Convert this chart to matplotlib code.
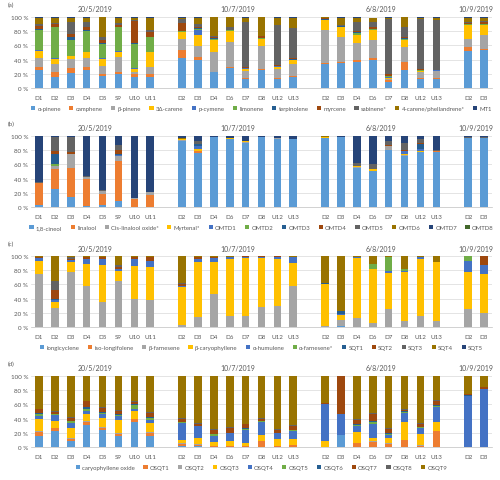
import numpy as np
import matplotlib
matplotlib.use("Agg")
import matplotlib.pyplot as plt

plt.rcParams['font.family'] = ['Lato', 'DejaVu Sans']

# sampling dates and samples per date
dates = ["20/5/2019", "10/7/2019", "6/8/2019", "10/9/2019"]
group_samples = [
    ["D1", "D2", "D3", "D4", "D5", "S9", "U10", "U11"],
    ["D2", "D3", "D4", "D6", "D7", "D8", "U12", "U13"],
    ["D2", "D3", "D4", "D6", "D7", "D8", "U12", "U13"],
    ["D2", "D3"],
]

# (a) monoterpenes, % per sample (one row per bar, columns follow mt_names)
mt_names = ["α-pinene", "camphene", "β-pinene", "3Δ-carene", "p-cymene", "limonene",
            "terpinolene", "myrcene", "sabinene*", "4-carene/phellandrene*", "MT1"]
mt_bars = [
    [25, 4, 13, 10, 1, 29, 0.5, 5, 3, 8, 1.5],
    [16, 6, 11, 8, 0.5, 43.5, 0.5, 4, 2, 7, 1.5],
    [21, 7, 13, 4, 0.5, 21.5, 4, 5, 16, 6, 2],
    [25, 4, 13, 8, 1, 29, 1, 5, 6, 6, 2],
    [17, 3, 11, 10, 1, 20, 0.5, 5, 4.5, 28, 0],
    [20, 2, 21, 8, 1, 33, 0.5, 3, 3, 7, 1.5],
    [15, 4, 3, 5, 1, 34, 0.5, 31.5, 2, 2, 2],
    [15, 4, 11, 20, 1, 20, 1, 7, 3, 16, 2],
    [42, 11, 16, 9, 0.5, 1, 0.5, 11, 6, 1, 2],
    [40, 3, 16, 16, 7, 1, 1, 1, 5, 8, 2],
    [22, 1, 28, 16, 1, 1, 1, 2, 1, 27, 0],
    [28, 2, 34, 16, 0.5, 0.5, 0.5, 0.5, 4, 14, 0],
    [13, 1, 10, 3, 0.5, 0.5, 0.5, 1, 62.5, 6, 2],
    [25, 2, 32, 10, 0.5, 0.5, 0.5, 2, 1, 26.5, 0],
    [13, 1, 13, 3, 0.5, 0.5, 0.5, 0.5, 56, 10, 2],
    [16, 1, 16, 6, 0.5, 0.5, 0.5, 1, 42.5, 15, 1],
    [34, 1, 47, 13, 0.5, 0.5, 0.5, 2, 0.5, 0.5, 0.5],
    [35, 1, 35, 14, 0.5, 0.5, 0.5, 1, 0.5, 11, 1],
    [36, 4, 23, 11, 1, 2, 1, 2, 13, 6, 1],
    [39, 3, 26, 13, 1, 1, 0.5, 1.5, 7, 6, 1],
    [8, 3, 2, 1, 1, 2, 0.5, 2, 77.5, 1.5, 1.5],
    [25, 12, 21, 9, 1, 1, 1, 1, 14, 14.5, 0.5],
    [12, 2, 8, 2, 0.5, 0.5, 0.5, 1, 70.5, 2, 1],
    [13, 0.5, 10.5, 0.5, 0.5, 0, 0, 0.5, 70, 3, 1.5],
    [52, 5, 12, 19, 1, 0.5, 0.5, 1, 2, 5, 2],
    [53, 2, 19, 14, 1, 1, 0.5, 1.5, 2, 5, 1],
]

# (b) oxygenated monoterpenes
omt_names = ["1,8-cineol", "linalool", "Cis-linalool oxide*", "Myrtenal*", "OMTD1", "OMTD2",
             "OMTD3", "OMTD4", "OMTD5", "OMTD6", "OMTD7", "OMTD8"]
omt_bars = [
    [3, 30, 1, 0, 0, 0, 0, 0, 1, 0, 65, 0],
    [25, 29, 3, 0, 1, 2, 14, 4, 20, 0, 2, 0],
    [14, 41, 20, 0, 0, 0, 0, 2, 21, 0, 2, 0],
    [2, 37, 3, 0, 0, 0, 0, 0, 2, 0, 56, 0],
    [3, 15, 4, 0, 0, 0, 0, 0, 2, 0, 76, 0],
    [8, 57, 6, 1, 1, 0, 1, 6, 7, 0, 13, 0],
    [0, 11, 1, 0, 0, 0, 0, 0, 0, 0, 88, 0],
    [0, 17, 4, 0, 0, 0, 0, 0, 0, 0, 79, 0],
    [93, 0, 1, 2, 0, 0, 0, 0, 0, 1, 3, 0],
    [76, 2, 1, 3, 3, 0, 3, 1, 3, 0, 8, 0],
    [99, 0, 0, 0, 0, 0, 0, 0, 0, 0, 1, 0],
    [95, 0, 1, 0.5, 0, 0, 0, 0, 0.5, 0, 3, 0],
    [90, 0, 1, 1, 0, 0, 0, 0, 1, 0, 7, 0],
    [98, 0, 0.5, 0, 0, 0, 0, 0, 0, 0.5, 1, 0],
    [96, 0, 1, 0, 0, 0, 0, 0, 0, 0, 3, 0],
    [95, 0, 0.5, 0, 0, 0, 0, 0, 0, 0, 4.5, 0],
    [97, 0, 0.5, 0.5, 0, 0, 0, 0, 0, 1.5, 0.5, 0],
    [98, 0, 1, 0, 0, 0, 0, 0, 0, 0, 1, 0],
    [55, 0, 1, 1, 0, 0, 0, 0, 5, 0, 38, 0],
    [50, 0, 1, 2, 0, 0, 0, 0, 7, 0, 40, 0],
    [80, 0, 5, 0, 0, 0, 0, 2, 6, 0, 7, 0],
    [72, 0, 0.5, 1.5, 4, 0, 1, 1, 10, 0, 10, 0],
    [77, 0, 0.5, 1.5, 2, 1, 6, 2, 6, 0, 4, 0],
    [77, 1, 1, 0, 0, 0, 0, 0, 1, 0, 20, 0],
    [97, 0, 0, 0, 0, 0, 0, 0, 2, 0, 1, 0],
    [97, 0, 0, 0, 0, 0, 0, 0, 2, 0, 1, 0],
]

# (c) sesquiterpenes
sqt_names = ["longicyclene", "iso-longifolene", "β-farnesene", "β-caryophyllene", "α-humulene",
             "α-farnesene*", "SQT1", "SQT2", "SQT3", "SQT4", "SQT5"]
sqt_bars = [
    [0, 0, 74, 19, 4, 0, 0, 2, 0, 1, 0],
    [0, 0, 27, 8, 3, 0, 2, 12, 13, 35, 0],
    [0, 0, 77, 14, 3, 0, 0, 1, 4, 1, 0],
    [0, 0, 58, 31, 6, 0, 0, 4, 0, 1, 0],
    [0, 0, 35, 52, 8, 0, 0, 3, 0, 2, 0],
    [0, 0, 65, 14, 2, 0, 0, 3, 3, 13, 0],
    [0, 0, 40, 46, 9, 0, 0, 4, 0, 1, 0],
    [0, 0, 38, 46, 9, 0, 0, 5, 0, 2, 0],
    [0, 0, 3, 53, 1, 0, 1, 2, 2, 38, 0],
    [0, 0, 14, 78, 3, 0, 0, 4, 0, 1, 0],
    [0, 0, 47, 44, 6, 0, 0, 2, 0, 1, 0],
    [0, 0, 15, 81, 2, 0, 0, 1, 0, 1, 0],
    [0, 0, 16, 81, 1, 0, 0, 1.5, 0, 0.5, 0],
    [0, 0, 28, 69, 2, 0, 0, 1, 0, 0, 0],
    [0, 0, 29, 67, 2, 0, 0, 1.5, 0, 0.5, 0],
    [0, 0, 57, 33, 8, 0, 0, 1, 0, 1, 0],
    [0, 0, 2, 58, 1, 0, 1, 0, 0, 38, 0],
    [1, 0, 9, 7, 2, 0, 3, 0, 0, 78, 0],
    [0, 0, 12, 85, 2, 0, 0, 0, 0, 1, 0],
    [0, 0, 6, 75, 1, 6, 0, 0, 0, 12, 0],
    [0, 0, 25, 51, 3, 20, 0, 0, 0, 1, 0],
    [0, 0, 8, 70, 1, 2, 0, 0, 0, 19, 0],
    [0, 0, 16, 79, 3, 0, 0, 0, 1, 1, 0],
    [0, 0, 9, 82, 1, 0, 0, 0, 0, 8, 0],
    [0, 0, 25, 52, 16, 7, 0, 0, 0, 0, 0],
    [0, 0, 20, 54, 13, 0, 0, 13, 0, 0, 0],
]

# (d) oxygenated sesquiterpenes
osqt_names = ["caryophyllene oxide", "OSQT1", "OSQT2", "OSQT3", "OSQT4", "OSQT5",
              "OSQT6", "OSQT7", "OSQT8", "OSQT9"]
osqt_bars = [
    [15, 6, 2, 16, 5, 3, 1, 5, 1, 46],
    [23, 3, 1, 9, 9, 1, 0, 3, 1, 50],
    [9, 2, 1, 15, 7, 2, 1, 4, 1, 58],
    [31, 4, 1, 10, 4, 3, 3, 8, 1, 35],
    [24, 3, 1, 13, 5, 2, 1, 6, 1, 44],
    [15, 3, 1, 19, 5, 2, 1, 5, 1, 48],
    [35, 4, 1, 10, 3, 6, 1, 3, 1, 36],
    [16, 3, 2, 13, 4, 3, 1, 6, 1, 51],
    [1, 3, 1, 5, 24, 1, 0, 5, 1, 59],
    [1, 2, 1, 8, 17, 0, 0, 4, 1, 66],
    [0, 1, 0, 6, 9, 2, 0, 6, 1, 75],
    [0, 2, 0, 6, 11, 1, 0, 7, 1, 72],
    [0, 1, 0, 5, 18, 1, 1, 6, 1, 67],
    [0, 8, 0.5, 8.5, 18, 1, 0, 4, 1, 59],
    [0, 1, 0, 10, 8, 1, 0, 4, 1, 75],
    [0, 3, 0, 8, 12, 1, 0, 6, 1, 69],
    [0, 0, 0, 9, 51, 0, 0, 2, 0, 38],
    [17, 0, 0, 0, 29, 0, 0, 54, 0, 0],
    [0, 6, 0, 15, 9, 1, 1, 6, 1, 61],
    [0, 7, 1, 5, 20, 2, 1, 10, 2, 52],
    [0, 4, 1, 7, 5, 1, 1, 6, 1, 74],
    [0, 10, 0, 25, 13, 1, 1, 2, 1, 47],
    [0, 2, 1, 15, 9, 1, 0, 5, 1, 66],
    [0, 23, 0, 12, 21, 1, 2, 6, 1, 34],
    [0, 0, 0, 0, 72, 0, 1, 1, 0, 26],
    [0, 0, 0, 0, 82, 0, 0, 2, 0, 16],
]

palette = ["#5B9BD5", "#ED7D31", "#A5A5A5", "#FFC000", "#4472C4", "#70AD47",
           "#255E91", "#9E480E", "#636363", "#997300", "#264478", "#43682B"]

# bar positions: one empty slot between dates
xpos, xlabels, centers = [], [], []
start = 0
for g in group_samples:
    pos = list(range(start, start + len(g)))
    xpos += pos
    xlabels += g
    centers.append((pos[0] + pos[-1]) / 2)
    start += len(g) + 1


def draw_panel(ax, tag, names, bars):
    vals = np.array(bars, dtype=float).T
    bottom = np.zeros(len(xpos))
    for i, (name, v) in enumerate(zip(names, vals)):
        ax.bar(xpos, v, 0.48, bottom=bottom, color=palette[i], label=name,
               linewidth=0, zorder=3)
        bottom += v

    ax.set_xlim(-0.5, start - 1.5)
    ax.set_ylim(0, 100)
    ax.set_yticks(range(0, 101, 20))
    ax.set_yticklabels([f"{t} %" for t in range(0, 101, 20)])
    ax.set_xticks(xpos)
    ax.set_xticklabels(xlabels)
    ax.tick_params(length=0, labelsize=4.5, colors="#595959")
    ax.tick_params(axis="x", pad=5)
    ax.tick_params(axis="y", pad=2)
    ax.grid(axis="y", color="#D9D9D9", linewidth=0.5, zorder=0)
    for s in ["top", "right", "left"]:
        ax.spines[s].set_visible(False)
    ax.spines["bottom"].set_color("#BFBFBF")
    ax.spines["bottom"].set_linewidth(0.5)

    for c, d in zip(centers, dates):
        ax.text(c, 111, d, ha="center", va="center", fontsize=5, color="#595959")
    ax.text(-0.05, 1.18, tag, transform=ax.transAxes, fontsize=4.5,
            color="#595959", ha="left", va="center")

    ax.legend(loc="center", bbox_to_anchor=(0.5, -0.29), ncol=len(names),
              frameon=False, fontsize=4.3, handlelength=0.7, handleheight=0.7,
              handletextpad=0.4, columnspacing=1.4, labelcolor="#595959")


fig = plt.figure(figsize=(5, 4.81), dpi=100)
panels = [("(a)", mt_names, mt_bars, 0.815),
          ("(b)", omt_names, omt_bars, 0.5676),
          ("(c)", sqt_names, sqt_bars, 0.318),
          ("(d)", osqt_names, osqt_bars, 0.0686)]
for tag, names, bars, b in panels:
    ax = fig.add_axes([0.062, b, 0.922, 0.148])
    draw_panel(ax, tag, names, bars)

fig.savefig("out.png", dpi=100)
